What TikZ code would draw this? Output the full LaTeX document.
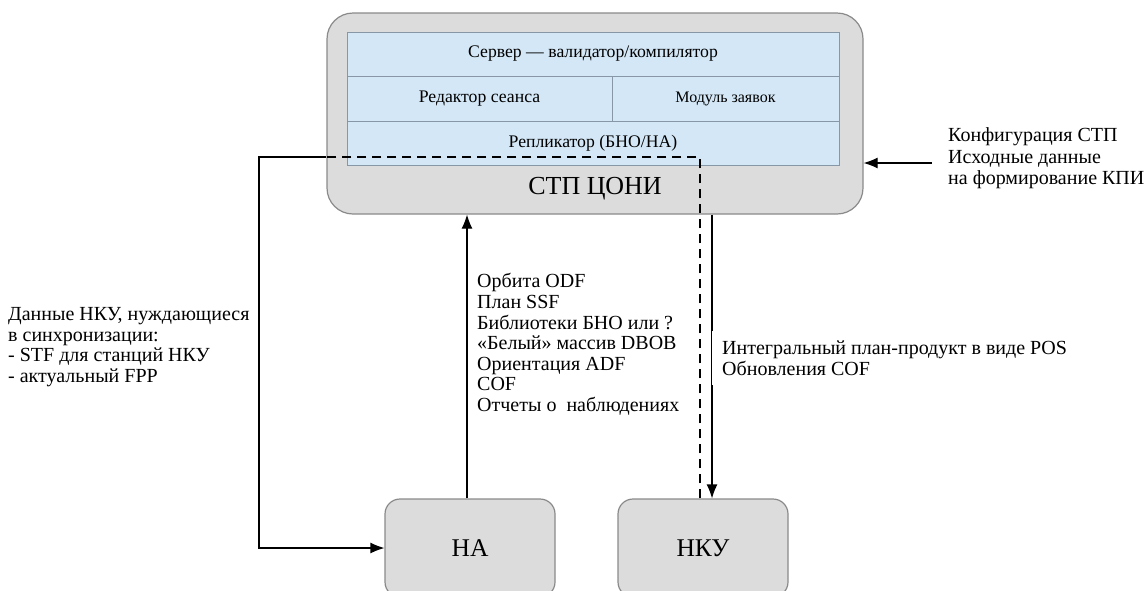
\documentclass[tikz,border=0pt]{standalone}
\usepackage{fontspec}
\setmainfont{Liberation Serif}
\usepackage{xcolor}
\usetikzlibrary{arrows.meta,positioning,calc}
\definecolor{boxgray}{HTML}{DCDCDC}
\definecolor{boxedge}{HTML}{8A8A8A}
\definecolor{panelblue}{HTML}{D3E7F6}
\definecolor{paneledge}{HTML}{8797A6}
\tikzset{
    blok/.style={draw=boxedge, fill=boxgray, rounded corners=#1, line width=1.2pt, font=\fontsize{25.5}{30}\selectfont},
    blok/.default=15pt,
    cell/.style={draw=paneledge, fill=panelblue, line width=1pt, inner sep=0pt, font=\fontsize{17.7}{21}\selectfont},
    txt/.style={align=left, inner sep=0pt, font=\fontsize{20}{20.6}\selectfont},
    flow/.style={line width=1.2pt, -{Latex[length=14pt,width=11pt]}},
    dashflow/.style={line width=1.2pt, dash pattern=on 9pt off 6pt}}

\begin{document}
\begin{tikzpicture}[x=1pt,y=-1pt]
\clip (0,0) rectangle (1147,590);
\node[blok=26pt, minimum width=536pt, minimum height=201pt] (stp) at (595,113.5) {};
\node[cell, minimum width=492pt, minimum height=44pt] (srv) at (593,54) {Сервер — валидатор/компилятор};
\node[cell, minimum width=265pt, minimum height=45pt] (red) at (479.5,98.5) {Редактор сеанса};
\node[cell, minimum width=227pt, minimum height=45pt, font=\fontsize{16}{19}\selectfont] (mod) at (725.5,98.5) {Модуль заявок};
\node[cell, minimum width=492pt, minimum height=44pt] (rep) at (593,143) {Репликатор (БНО/НА)};
\node[font=\fontsize{26}{30}\selectfont, inner sep=0pt] (name) at (595,189) {СТП ЦОНИ};

\node[blok, minimum width=170pt, minimum height=98pt] (na) at (470,548) {НА};
\node[blok, minimum width=170pt, minimum height=98pt] (nku) at (703,548) {НКУ};

\coordinate (knot) at (700,157);
\coordinate (turn) at (259,157);
\coordinate (plan) at (712,0);
\coordinate (cfg) at (932,163);

%\draw[dashflow] (rep.south west) -- (rep.south east);
\draw[dashflow] (nku.north -| knot) -- (knot) -- (stp.west |- knot);
\draw[flow] (stp.west |- knot) -- (turn) |- (na.west);
\draw[flow] (na.north -| 467,0) -- (stp.south -| 467,0);
\draw[flow] (stp.south -| plan) -- (nku.north -| plan);
\draw[flow] (cfg) -- (stp.east |- cfg);

\node[txt, anchor=west] (sync) at (8,347) {Данные НКУ, нуждающиеся\\в синхронизации:\\- STF для станций НКУ\\- актуальный FPP};
\node[txt, anchor=west] (orb) at (477,344.5) {Орбита ODF\\План SSF\\Библиотеки БНО или ?\\«Белый» массив DBOB\\Ориентация ADF\\COF\\Отчеты о\ \ наблюдениях};
\node[txt, anchor=west, fill=white, inner xsep=10pt, inner ysep=10pt] (pos) at (712,358) {Интегральный план-продукт в виде POS\\Обновления COF};
\node[txt, anchor=west, font=\fontsize{20}{21.5}\selectfont] (conf) at (948,158.5) {Конфигурация СТП\\Исходные данные\\на формирование КПИ};
\end{tikzpicture}
\end{document}
